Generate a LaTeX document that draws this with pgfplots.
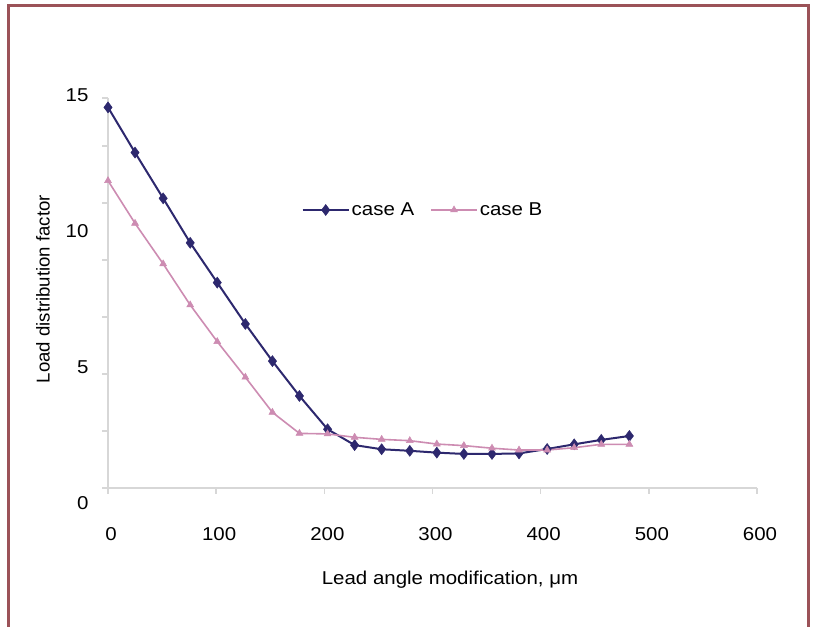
\documentclass[border=0pt]{standalone}
\usepackage{fontspec}
\setmainfont{Liberation Sans}[FakeStretch=1.1]
\newfontfamily\ylabfont{Liberation Sans}
\usepackage{pgfplots}
\pgfplotsset{compat=1.18}

\definecolor{framecol}{RGB}{155,82,88}
\definecolor{axgray}{RGB}{215,215,215}
\definecolor{caseA}{RGB}{45,40,110}
\definecolor{caseB}{RGB}{205,140,178}
\newcommand\chartfont{\fontsize{18.6bp}{22bp}\selectfont}

\pgfplotstableread{
x    A      B
0    14.64  11.82
25   12.90  10.18
51   11.14   8.62
76    9.43   7.04
101   7.90   5.63
127   6.31   4.26
152   4.88   2.91
177   3.54   2.10
203   2.26   2.08
228   1.65   1.95
253   1.49   1.87
279   1.43   1.82
304   1.36   1.69
329   1.31   1.63
355   1.31   1.53
380   1.33   1.46
406   1.50   1.46
431   1.68   1.55
456   1.85   1.68
482   2.00   1.68
}\loaddata

\begin{document}
\begin{tikzpicture}[x=1bp,y=1bp]
\useasboundingbox (0,0) rectangle (816,627);
\fill[white] (0,0) rectangle (816,627);
\draw[framecol, line width=3bp] (8,-5) -- (8,621) -- (808,621) -- (808,-5);
\begin{axis}[
    at={(108bp,139bp)}, anchor=south west,
    width=649bp, height=390bp, scale only axis,
    xmin=0, xmax=600, ymin=0, ymax=15,
    axis x line=bottom, axis y line=left,
    axis line style={-, draw=axgray, line width=2bp},
    font=\chartfont,
    /pgf/number format/assume math mode=true,
    xtick={0,100,...,600},
    ytick={0,5,10,15},
    tick align=outside,
    major tick length=6bp,
    xtick style={draw=axgray, line width=1.5bp},
    ytick style={draw=none},
    extra y ticks={0,2.19,4.38,6.58,8.77,10.96,13.15,15},
    extra y tick labels={},
    extra y tick style={ytick style={draw=axgray, line width=1.5bp}},
    xticklabel style={yshift=-30bp, xshift=3bp},
    yticklabel style={xshift=-10bp},
    yticklabel={\pgfmathsetlengthmacro\lshift{6*\ticknum-15}\raisebox{\lshift}[\height][\depth]{\pgfmathprintnumber{\tick}}},
    xlabel={Lead angle modification, μm},
    xlabel style={at={(axis description cs:0.527,0)}, anchor=center, yshift=-92bp},
    ylabel={\ylabfont Load distribution factor},
    ylabel style={at={(axis description cs:-0.1,0.51)}, anchor=center},
    legend columns=2,
    legend style={draw=none, fill=none, font=\chartfont,
        at={(axis description cs:0.4854,0.7128)}, anchor=center,
        /tikz/every even column/.append style={column sep=14bp}},
    legend image code/.code={\draw[mark repeat=2,mark phase=2,#1] plot coordinates {(0bp,0bp) (23bp,0bp) (46bp,0bp)};},
]
\addplot[caseA, line width=2bp, mark=diamond*, mark size=5.5bp, mark options={fill=caseA, draw=caseA, line width=0.5bp}] table[x=x, y=A] {\loaddata};
\addlegendentry{case A}
\addplot[caseB, line width=1.6bp, mark=triangle*, mark size=4bp, mark options={fill=caseB, draw=caseB, line width=0.5bp}] table[x=x, y=B] {\loaddata};
\addlegendentry{case B}
\end{axis}
\end{tikzpicture}
\end{document}
